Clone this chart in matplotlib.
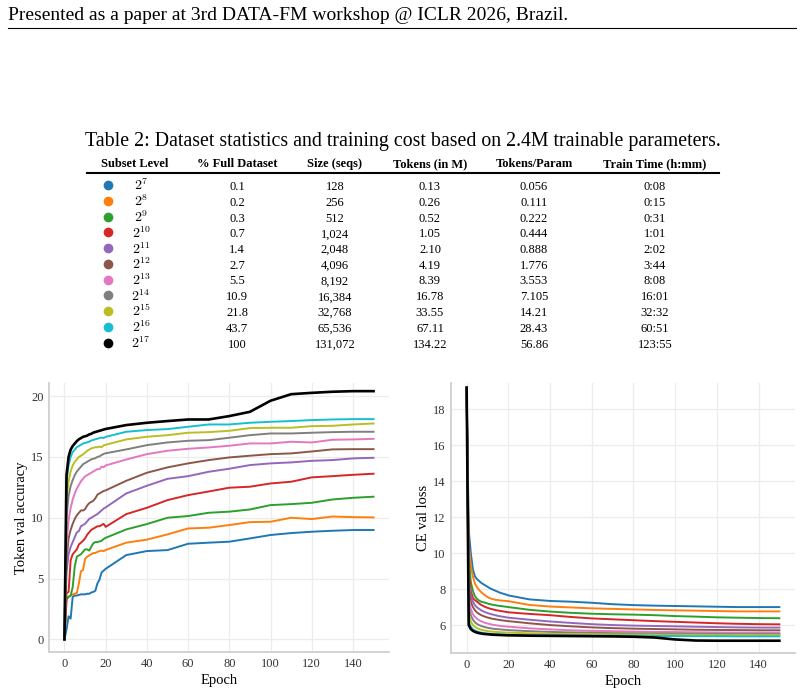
import matplotlib
matplotlib.use('Agg')
import matplotlib.pyplot as plt

plt.rcParams['font.family'] = ['Liberation Serif', 'DejaVu Serif']
plt.rcParams['mathtext.fontset'] = 'cm'

# ---- table data ----
levels = [7, 8, 9, 10, 11, 12, 13, 14, 15, 16, 17]
pct_full = ['0.1', '0.2', '0.3', '0.7', '1.4', '2.7', '5.5', '10.9', '21.8', '43.7', '100']
size_seqs = ['128', '256', '512', '1,024', '2,048', '4,096', '8,192', '16,384', '32,768', '65,536', '131,072']
tokens_m = ['0.13', '0.26', '0.52', '1.05', '2.10', '4.19', '8.39', '16.78', '33.55', '67.11', '134.22']
tokens_param = ['0.056', '0.111', '0.222', '0.444', '0.888', '1.776', '3.553', '7.105', '14.21', '28.43', '56.86']
train_time = ['0:08', '0:15', '0:31', '1:01', '2:02', '3:44', '8:08', '16:01', '32:32', '60:51', '123:55']
colors = ['#1f77b4', '#ff7f0e', '#2ca02c', '#d62728', '#9467bd', '#8c564b',
          '#e377c2', '#7f7f7f', '#bcbd22', '#17becf', '#000000']

# ---- curve data (epochs 0..20, then every 10) ----
epochs = list(range(0, 21)) + list(range(30, 151, 10))

acc_2_7 = [0, 0.8, 1.9, 1.7, 3.5, 3.6, 3.6, 3.65, 3.7, 3.7, 3.7, 3.75, 3.75, 3.85, 3.9, 4.0, 4.6, 4.9, 5.5, 5.65, 5.8,
           6.93, 7.26, 7.34, 7.86, 7.95, 8.03, 8.3, 8.58, 8.74, 8.85, 8.93, 8.99, 8.99]
acc_2_8 = [0, 3.3, 3.5, 3.6, 3.7, 3.75, 3.8, 4.6, 5.6, 5.7, 6.6, 6.8, 6.9, 7.0, 7.1, 7.1, 7.2, 7.25, 7.3, 7.25, 7.35,
           7.95, 8.2, 8.63, 9.12, 9.18, 9.4, 9.64, 9.67, 10.0, 9.89, 10.1, 10.05, 10.03]
acc_2_9 = [0, 3.3, 3.5, 3.6, 4.3, 6.0, 6.8, 6.9, 7.0, 7.2, 7.4, 7.4, 7.3, 7.6, 7.9, 8.0, 8.0, 8.05, 8.1, 8.25, 8.35,
           9.04, 9.48, 10.0, 10.14, 10.41, 10.5, 10.68, 11.04, 11.12, 11.23, 11.5, 11.64, 11.73]
acc_2_10 = [0, 3.8, 3.9, 6.5, 7.0, 7.2, 7.4, 7.8, 7.95, 8.1, 8.3, 8.6, 8.8, 9.0, 9.1, 9.2, 9.3, 9.3, 9.4, 9.5, 9.25,
            10.3, 10.82, 11.45, 11.86, 12.16, 12.47, 12.55, 12.82, 12.96, 13.32, 13.42, 13.53, 13.62]
acc_2_11 = [0, 5.5, 7.0, 7.6, 8.0, 8.4, 8.8, 8.9, 9.3, 9.4, 9.5, 9.7, 9.9, 10.0, 10.1, 10.2, 10.3, 10.45, 10.6, 10.75, 10.85,
            12.0, 12.63, 13.2, 13.42, 13.78, 14.03, 14.33, 14.47, 14.55, 14.68, 14.74, 14.88, 14.93]
acc_2_12 = [0, 6.5, 8.3, 9.0, 9.5, 9.9, 10.2, 10.4, 10.6, 10.6, 10.7, 11.0, 11.2, 11.3, 11.4, 11.6, 11.9, 12.0, 12.1, 12.2, 12.25,
            13.04, 13.7, 14.14, 14.47, 14.74, 14.96, 15.1, 15.23, 15.29, 15.45, 15.62, 15.64, 15.64]
acc_2_13 = [0, 8.0, 9.8, 10.8, 11.5, 12.0, 12.4, 12.7, 13.0, 13.2, 13.4, 13.5, 13.6, 13.7, 13.8, 13.9, 14.0, 14.0, 14.2, 14.15, 14.3,
            14.79, 15.23, 15.51, 15.67, 15.78, 15.92, 16.11, 16.11, 16.25, 16.19, 16.41, 16.44, 16.49]
acc_2_14 = [0, 10.0, 11.8, 12.6, 13.1, 13.5, 13.8, 14.0, 14.2, 14.4, 14.5, 14.6, 14.7, 14.8, 14.85, 14.9, 15.0, 15.05, 15.15, 15.25, 15.3,
            15.62, 15.97, 16.19, 16.33, 16.38, 16.58, 16.79, 16.93, 16.93, 16.99, 17.04, 17.07, 17.07]
acc_2_15 = [0, 11.5, 13.0, 13.8, 14.3, 14.6, 14.8, 15.0, 15.1, 15.2, 15.35, 15.5, 15.6, 15.7, 15.75, 15.8, 15.8, 15.85, 15.8, 15.95, 16.0,
            16.44, 16.66, 16.79, 16.99, 17.04, 17.15, 17.37, 17.4, 17.4, 17.53, 17.56, 17.67, 17.75]
acc_2_16 = [0, 13.0, 14.3, 15.0, 15.4, 15.6, 15.8, 15.9, 16.0, 16.1, 16.15, 16.2, 16.25, 16.35, 16.4, 16.45, 16.5, 16.55, 16.6, 16.55, 16.65,
            17.07, 17.21, 17.29, 17.48, 17.67, 17.67, 17.81, 17.89, 17.95, 18.03, 18.08, 18.11, 18.11]
acc_2_17 = [0, 13.5, 15.0, 15.6, 15.9, 16.1, 16.3, 16.45, 16.55, 16.65, 16.7, 16.75, 16.85, 16.9, 17.0, 17.05, 17.1, 17.15, 17.2, 17.25, 17.3,
            17.62, 17.81, 17.95, 18.08, 18.08, 18.36, 18.71, 19.62, 20.16, 20.27, 20.36, 20.41, 20.41]

loss_2_7 = [19.2, 11.3, 10.0, 9.1, 8.7, 8.55, 8.45, 8.35, 8.27, 8.2, 8.13, 8.06, 8.0, 7.95, 7.9, 7.85, 7.8, 7.76, 7.73, 7.69, 7.65,
            7.43, 7.34, 7.3, 7.24, 7.16, 7.11, 7.08, 7.06, 7.04, 7.02, 7.0, 7.0, 7.0]
loss_2_8 = [19.2, 10.5, 9.3, 8.7, 8.3, 8.1, 7.95, 7.83, 7.73, 7.64, 7.56, 7.5, 7.46, 7.43, 7.4, 7.39, 7.37, 7.36, 7.35, 7.34, 7.33,
            7.12, 7.03, 6.98, 6.93, 6.9, 6.87, 6.84, 6.82, 6.8, 6.78, 6.76, 6.76, 6.76]
loss_2_9 = [19.2, 9.8, 8.4, 7.9, 7.6, 7.45, 7.36, 7.3, 7.27, 7.24, 7.2, 7.17, 7.14, 7.12, 7.1, 7.08, 7.06, 7.05, 7.03, 7.02, 7.0,
            6.85, 6.75, 6.68, 6.63, 6.6, 6.58, 6.55, 6.5, 6.47, 6.43, 6.41, 6.39, 6.38]
loss_2_10 = [19.2, 9.0, 7.9, 7.5, 7.38, 7.3, 7.2, 7.12, 7.06, 7.0, 6.96, 6.92, 6.89, 6.86, 6.83, 6.81, 6.79, 6.77, 6.75, 6.73, 6.71,
             6.62, 6.55, 6.45, 6.37, 6.32, 6.27, 6.22, 6.18, 6.14, 6.1, 6.07, 6.05, 6.04]
loss_2_11 = [19.2, 8.5, 7.6, 7.3, 7.1, 6.98, 6.9, 6.82, 6.76, 6.71, 6.67, 6.63, 6.6, 6.57, 6.54, 6.51, 6.49, 6.47, 6.45, 6.43, 6.41,
             6.3, 6.2, 6.12, 6.05, 6.0, 5.97, 5.95, 5.93, 5.91, 5.89, 5.87, 5.86, 5.86]
loss_2_12 = [19.2, 8.0, 7.3, 7.0, 6.82, 6.7, 6.62, 6.55, 6.5, 6.46, 6.42, 6.39, 6.36, 6.34, 6.32, 6.3, 6.28, 6.26, 6.25, 6.23, 6.22,
             6.1, 6.0, 5.93, 5.87, 5.83, 5.8, 5.78, 5.76, 5.74, 5.73, 5.72, 5.71, 5.71]
loss_2_13 = [19.2, 7.5, 6.9, 6.6, 6.45, 6.35, 6.27, 6.21, 6.16, 6.12, 6.09, 6.06, 6.03, 6.01, 5.99, 5.97, 5.96, 5.94, 5.93, 5.92, 5.91,
             5.82, 5.76, 5.71, 5.68, 5.66, 5.64, 5.62, 5.61, 5.6, 5.59, 5.58, 5.58, 5.58]
loss_2_14 = [19.2, 7.0, 6.55, 6.3, 6.15, 6.06, 6.0, 5.95, 5.91, 5.88, 5.85, 5.83, 5.81, 5.79, 5.78, 5.77, 5.76, 5.75, 5.74, 5.73, 5.72,
             5.66, 5.62, 5.59, 5.57, 5.55, 5.54, 5.53, 5.52, 5.51, 5.51, 5.5, 5.5, 5.5]
loss_2_15 = [19.2, 6.6, 6.2, 6.0, 5.9, 5.83, 5.78, 5.74, 5.71, 5.69, 5.67, 5.65, 5.64, 5.63, 5.62, 5.61, 5.6, 5.6, 5.59, 5.58, 5.58,
             5.54, 5.51, 5.5, 5.49, 5.48, 5.47, 5.47, 5.46, 5.46, 5.45, 5.45, 5.45, 5.45]
loss_2_16 = [19.2, 6.2, 5.9, 5.77, 5.7, 5.65, 5.61, 5.58, 5.56, 5.54, 5.53, 5.52, 5.51, 5.5, 5.49, 5.49, 5.48, 5.48, 5.47, 5.47, 5.46,
             5.44, 5.43, 5.42, 5.41, 5.41, 5.4, 5.39, 5.39, 5.38, 5.38, 5.37, 5.37, 5.37]
loss_2_17 = [19.2, 6.0, 5.78, 5.68, 5.62, 5.58, 5.55, 5.53, 5.51, 5.5, 5.49, 5.48, 5.47, 5.46, 5.46, 5.45, 5.45, 5.44, 5.44, 5.43, 5.43,
             5.41, 5.4, 5.39, 5.38, 5.37, 5.35, 5.31, 5.2, 5.14, 5.13, 5.13, 5.13, 5.13]

acc_series = [acc_2_7, acc_2_8, acc_2_9, acc_2_10, acc_2_11, acc_2_12,
              acc_2_13, acc_2_14, acc_2_15, acc_2_16, acc_2_17]
loss_series = [loss_2_7, loss_2_8, loss_2_9, loss_2_10, loss_2_11, loss_2_12,
               loss_2_13, loss_2_14, loss_2_15, loss_2_16, loss_2_17]

W, H = 804, 690
fig = plt.figure(figsize=(W / 100, H / 100), dpi=100)

# page overlay in pixel coords
page = fig.add_axes([0, 0, 1, 1])
page.set_xlim(0, W)
page.set_ylim(H, 0)
page.axis('off')

page.text(8, 20, 'Presented as a paper at 3rd DATA-FM workshop @ ICLR 2026, Brazil.',
          fontsize=14, va='baseline', ha='left')
page.plot([8, 796], [28, 28], color='black', lw=0.8)

page.text(403, 146, 'Table 2: Dataset statistics and training cost based on 2.4M trainable parameters.',
          fontsize=14.3, va='baseline', ha='center')

col_x = [135, 237, 335, 430, 534, 655]
headers = ['Subset Level', '% Full Dataset', 'Size (seqs)', 'Tokens (in M)', 'Tokens/Param', 'Train Time (h:mm)']
for x, h in zip(col_x, headers):
    page.text(x, 167, h, fontsize=9, fontweight='bold', ha='center', va='baseline')
page.plot([87, 719], [172.5, 172.5], color='black', lw=1.5)

row0, dy = 186, 15.75
for i, lev in enumerate(levels):
    y = row0 + i * dy
    page.plot([108], [y - 1], marker='o', ms=7, color=colors[i], mec='none')
    page.text(141, y + 4.5, r'$2^{%d}$' % lev, fontsize=10, ha='center', va='baseline')
    vals = [pct_full[i], size_seqs[i], tokens_m[i], tokens_param[i], train_time[i]]
    for x, v in zip(col_x[1:], vals):
        page.text(x, y + 4, v, fontsize=9, ha='center', va='baseline')


def style(ax):
    ax.set_facecolor('white')
    ax.grid(True, color='#ececec', lw=0.9)
    ax.set_axisbelow(True)
    for s in ['top', 'right']:
        ax.spines[s].set_visible(False)
    for s in ['left', 'bottom']:
        ax.spines[s].set_color('#cfcfcf')
        ax.spines[s].set_linewidth(1.3)
    ax.tick_params(length=0, labelsize=9, colors='#333333', pad=4)
    ax.set_xlim(-7.5, 157.5)
    ax.set_xticks([0, 20, 40, 60, 80, 100, 120, 140])
    ax.set_xlabel('Epoch', fontsize=10.5, labelpad=3)


ax1 = fig.add_axes([49 / W, 1 - 652 / H, 340 / W, 269 / H])
for ys, c in zip(acc_series, colors):
    ax1.plot(epochs, ys, color=c, lw=1.9 if c == '#000000' else 1.4)
style(ax1)
ax1.set_ylim(-1.04, 21.08)
ax1.set_yticks([0, 5, 10, 15, 20])
ax1.set_ylabel('Token val accuracy', fontsize=10.5, labelpad=2)

ax2 = fig.add_axes([451 / W, 1 - 653.3 / H, 344 / W, 270.3 / H])
for ys, c in zip(loss_series, colors):
    ax2.plot(epochs, ys, color=c, lw=1.9 if c == '#000000' else 1.4)
style(ax2)
ax2.set_ylim(4.43, 19.46)
ax2.set_yticks([6, 8, 10, 12, 14, 16, 18])
ax2.set_ylabel('CE val loss', fontsize=10.5, labelpad=2)

fig.savefig('out.png', dpi=100)
